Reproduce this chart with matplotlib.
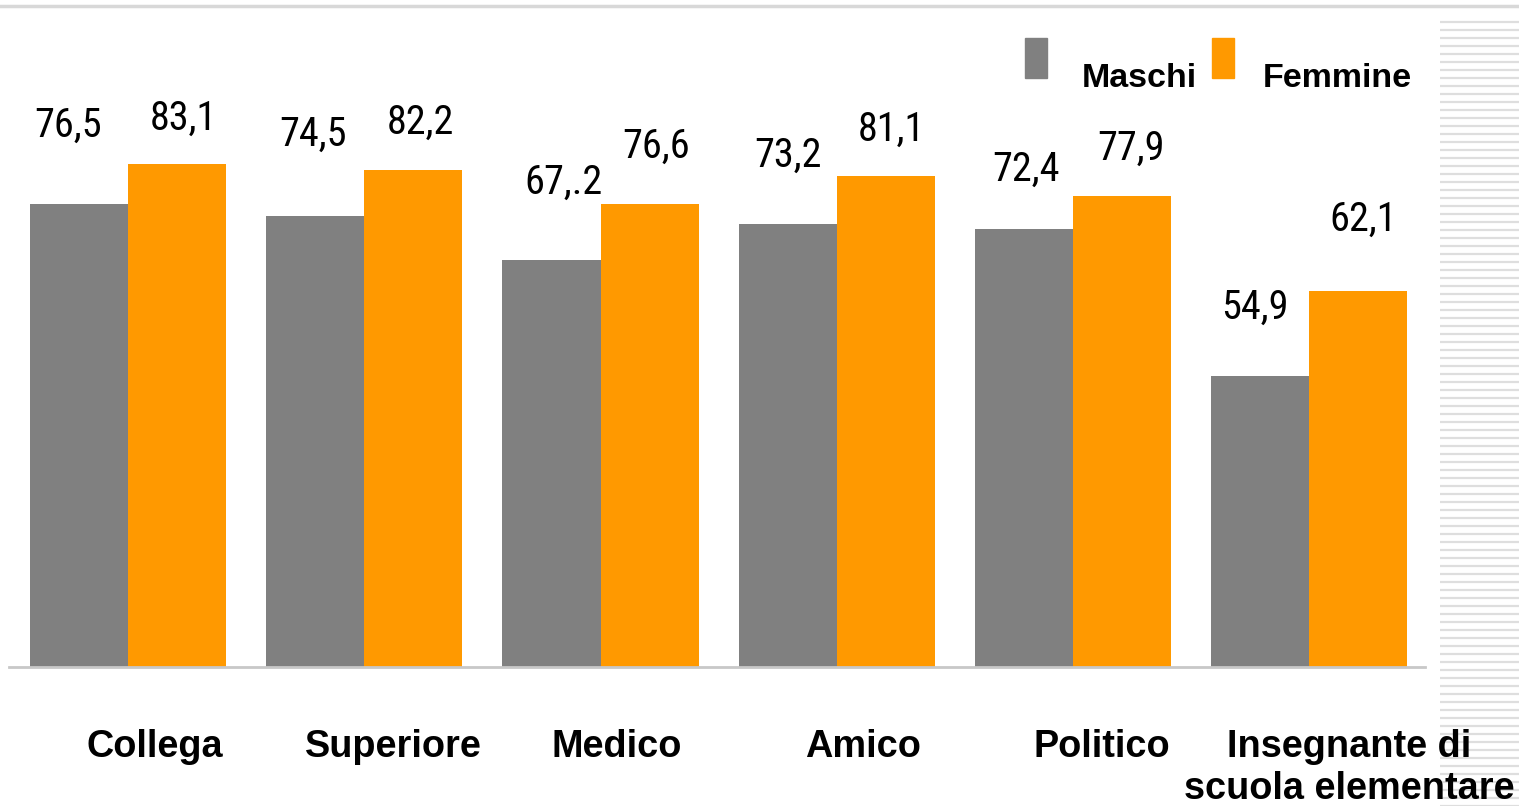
import matplotlib
matplotlib.use("Agg")
import matplotlib.pyplot as plt
from matplotlib.patches import Rectangle
from matplotlib.lines import Line2D
import numpy as np

categories = ["Collega", "Superiore", "Medico", "Amico", "Politico",
              "Insegnante di\nscuola elementare"]
maschi = [76.5, 74.5, 67.2, 73.2, 72.4, 48.1]
femmine = [83.1, 82.2, 76.6, 81.1, 77.9, 62.1]
maschi_labels = ["76,5", "74,5", "67,.2", "73,2", "72,4", "54,9"]
femmine_labels = ["83,1", "82,2", "76,6", "81,1", "77,9", "62,1"]
series_names = ["Maschi", "Femmine"]

#label offsets from the bar top (pixels), the labels were moved by hand

maschi_off = [(-11, 83), (-2, 86), (12, 82), (0, 73), (2, 64), (-5, 73)]
femmine_off = [(6, 50), (7, 51), (7, 61), (6, 51), (9, 51), (5, 76)]

#category names sit a bit right of the group centre (pixels)

cat_dx = [27, 29, 16, 26, 29, 40]

GRAY = "#808080"
ORANGE = "#ff9900"
NARROW = ["Roboto Condensed", "Liberation Sans", "DejaVu Sans"]
ARIAL = ["Liberation Sans", "DejaVu Sans"]

W, H = 1519, 806
fig = plt.figure(figsize=(W / 100, H / 100), dpi=100)

#slide decoration: thin line at the top and stripes at the right

fig.add_artist(Line2D([0, 1], [1 - 6 / H, 1 - 6 / H], transform=fig.transFigure,
                      color="#d8d8d8", lw=2.5))
deco = fig.add_axes([1440 / W, 0, 79 / W, 1 - 15 / H])
deco.set_axis_off()
deco.set_xlim(0, 1)
deco.set_ylim(0, 1)
for y in np.arange(0, 1, 8 / (H - 15)):
    deco.axhline(y, color="#dedede", lw=1.6)

#main axes, placed so the baseline sits at y=667 px

ax = fig.add_axes([9 / W, (H - 667) / H, 1416 / W, 605 / H])
x = np.arange(len(categories))
bw = 0.415
b1 = ax.bar(x - bw / 2, maschi, bw, color=GRAY, label=series_names[0])
b2 = ax.bar(x + bw / 2, femmine, bw, color=ORANGE, label=series_names[1])
ax.set_xlim(-0.504, 5.49)
ax.set_ylim(0, 100)

for bars, labels, offs in ((b1, maschi_labels, maschi_off),
                           (b2, femmine_labels, femmine_off)):
    for rect, lab, off in zip(bars, labels, offs):
        ax.annotate(lab, (rect.get_x() + rect.get_width() / 2, rect.get_height()),
                    xytext=off, textcoords="offset pixels",
                    ha="center", va="center_baseline", fontsize=29, family=NARROW,
                    annotation_clip=False)

for i, cat in enumerate(categories):
    ax.annotate(cat, (i, 0), xytext=(cat_dx[i], -62), textcoords="offset pixels",
                ha="center", va="top", fontsize=27.3, fontweight="bold",
                family=ARIAL, linespacing=1.22, annotation_clip=False)

for s in ("top", "right", "left"):
    ax.spines[s].set_visible(False)
ax.spines["bottom"].set_color("#c8c8c8")
ax.spines["bottom"].set_linewidth(2)
ax.set_xticks([])
ax.set_yticks([])

#legend drawn by hand: tall swatches with the names next to them

for (x0, x1), color, name, tx in (((1025, 1047), GRAY, series_names[0], 1082),
                                  ((1212, 1234), ORANGE, series_names[1], 1263)):
    fig.add_artist(Rectangle((x0 / W, 1 - 78 / H), (x1 - x0) / W, 40 / H,
                             transform=fig.transFigure, color=color))
    fig.text(tx / W, 1 - 87 / H, name, ha="left", va="baseline", fontsize=24.5,
             fontweight="bold", family=ARIAL)

fig.savefig("out.png", dpi=100)
